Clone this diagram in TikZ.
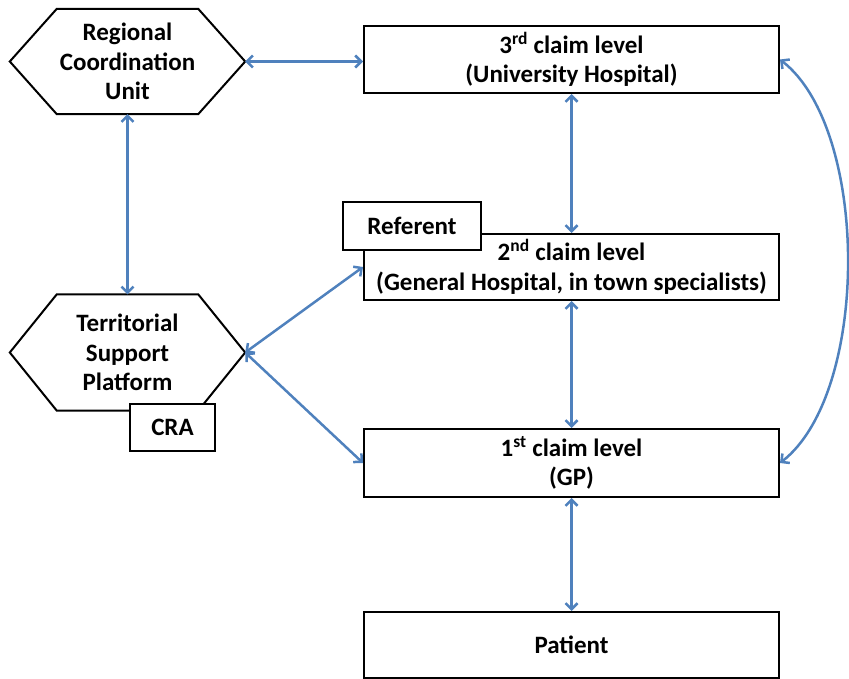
\documentclass[tikz,border=0pt]{standalone}
\usepackage{fontspec}
\setmainfont{Carlito}
\usetikzlibrary{arrows.meta}
\definecolor{linkblue}{RGB}{79,129,189}

\begin{document}
\begin{tikzpicture}[x=1pt,y=-1pt,
    box/.style={draw, line width=2pt, fill=white, inner sep=0pt, align=center, minimum width=415pt, minimum height=67pt},
    hexa/.style={inner sep=0pt, align=center, minimum width=235pt},
    tag/.style={draw, line width=2pt, fill=white, inner sep=0pt},
    link/.style={draw=linkblue, line width=2.5pt, <->, >={Straight Barb[length=6pt,width=12pt]}},
    font=\fontsize{25}{29.5}\selectfont\bfseries]
    \useasboundingbox (0,0) rectangle (849,679);
    % Hexagons
    \node[hexa, minimum height=105pt] (rcu) at (127.5,61.5) {Regional\\Coordination\\Unit};
    \node[hexa, minimum height=116pt] (tsp) at (127.5,352.5) {Territorial\\Support\\Platform};
    \foreach \h in {rcu,tsp}
        \draw[line width=2pt] (\h.west) -- ([xshift=47pt]\h.north west) -- ([xshift=-47pt]\h.north east)
            -- (\h.east) -- ([xshift=-47pt]\h.south east) -- ([xshift=47pt]\h.south west) -- cycle;
    % Claim levels
    \node[box] (c3) at (571.5,59.5) {3\textsuperscript{rd} claim level\\(University Hospital)};
    \node[box, minimum height=66pt] (c2) at (571.5,267) {2\textsuperscript{nd} claim level\\(General Hospital, in town specialists)};
    \node[box, minimum height=68pt] (c1) at (571.5,463) {1\textsuperscript{st} claim level\\(GP)};
    \node[box, minimum height=66pt] (pat) at (571.5,645) {Patient};
    % Tags
    \node[tag, minimum width=138pt, minimum height=48pt] (ref) at (412,226) {Referent};
    \node[tag, minimum width=85pt, minimum height=47pt] (cra) at (172.5,427.5) {CRA};
    % Links
    \draw[link] (rcu.east) -- (c3.west |- rcu.east);
    \draw[link] (rcu.south) -- (tsp.north);
    \draw[link] (c3.south) -- (c2.north);
    \draw[link] (c2.south) -- (c1.north);
    \draw[link] (c1.south) -- (pat.north);
    \draw[link] (tsp.east) -- (c2.west);
    \draw[link] (tsp.east) -- (c1.west);
    \draw[link] (c3.east) .. controls +(90,70) and +(90,-70) .. (c1.east);
\end{tikzpicture}
\end{document}
